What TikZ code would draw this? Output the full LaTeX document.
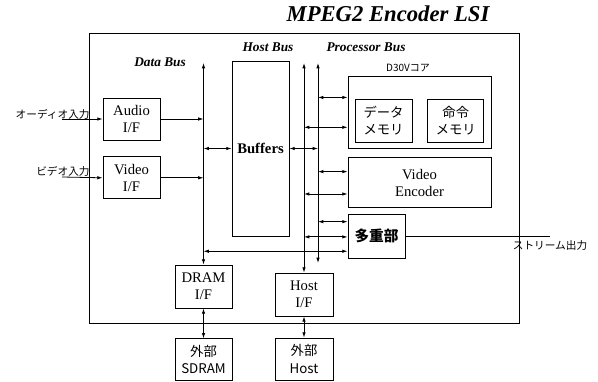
\documentclass[tikz,border=0pt]{standalone}
\usepackage{fontspec}
\setmainfont{Liberation Serif}
\newfontfamily\jp{Noto Sans CJK JP}
\usetikzlibrary{arrows.meta,positioning,calc}

\begin{document}
\begin{tikzpicture}[x=0.75pt,y=-0.75pt,node distance=12pt,>={Latex[length=4pt,width=2.6pt]},line width=0.6pt]
\tikzstyle{box}=[draw, align=center, inner sep=0pt, minimum width=42.75pt, minimum height=31.5pt, font=\fontsize{11}{13}\selectfont]
\tikzstyle{jbox}=[box, font=\jp\fontsize{10}{13}\selectfont]
\tikzstyle{busname}=[font=\bfseries\itshape\fontsize{10}{12}\selectfont]
\tikzstyle{jtext}=[inner sep=0pt, font=\jp\fontsize{8}{10}\selectfont]
\useasboundingbox (0,0) rectangle (598,381);
\node[draw, minimum width=322.5pt, minimum height=217.5pt] (lsi) at (304,178) {};
\node[font=\bfseries\itshape\fontsize{17}{20}\selectfont] (title) at (388,14) {MPEG2 Encoder LSI};
\node[busname] (dbus) at (160,62) {Data Bus};
\node[busname] (hbus) at (268,47) {Host Bus};
\node[busname] (pbus) at (366,47) {Processor Bus};
\node[box] (audio) at (131.5,119) {Audio\\I/F};
\node[box, below=12pt of audio] (video) {Video\\I/F};
\node[box, font=\bfseries\fontsize{11}{13}\selectfont, minimum height=131.25pt] (buf) at (260.5,148.5) {Buffers};
\node[draw, minimum width=107.25pt, minimum height=54pt] (d30v) at (419.5,112) {};
\node[jtext, font=\jp\fontsize{7.5}{9}\selectfont] (core) at (408,68) {D30Vコア};
\node[jbox, minimum height=32.25pt] (dmem) at (383.5,120.5) {データ\\メモリ};
\node[jbox, right=11.25pt of dmem, minimum width=42pt, minimum height=32.25pt] (imem) {命令\\メモリ};
\node[box, below=6.75pt of d30v, minimum width=107.25pt, minimum height=37.5pt] (venc) {Video\\Encoder};
\node[jbox, font=\jp\bfseries\fontsize{11}{13}\selectfont, minimum height=33pt] (mux) at (376.5,236) {多重部};
\node[box, minimum height=32.25pt] (dram) at (203.5,286.5) {DRAM\\I/F};
\node[box, minimum width=43.5pt, minimum height=32.25pt] (hostif) at (304,294.5) {Host\\I/F};
\node[jbox, below=22.5pt of dram] (sdram) {外部\\SDRAM};
\node[jbox, minimum width=43.5pt] (exth) at (304,359) {外部\\Host};
\node[jtext, anchor=east] (ain) at (90,114) {オーディオ入力};
\node[jtext, anchor=east] (vin) at (90,171) {ビデオ入力};
\node[jtext] (sout) at (550,245) {ストリーム出力};
\coordinate (ain0) at (62,119);
\coordinate (vin0) at (62,177);
\coordinate (dtop) at (203.5,63);
\coordinate (htop) at (304,63);
\coordinate (ptop) at (318,63);
\coordinate (pbot) at (318,263);
\draw[->] (ain0) -- (audio.west);
\draw[->] (vin0) -- (video.west);
\draw[->] (audio.east) -- (audio.east -| dtop);
\draw[->] (video.east) -- (video.east -| dtop);
\draw[<->] (dtop) -- (dram.north);
\draw[<->] (htop) -- (hostif.north);
\draw[<->] (ptop) -- (pbot);
\draw[<->] (buf.west) -- (buf.west -| dtop);
\draw[<->] (buf.east) -- (buf.east -| ptop);
\foreach \blk/\pos/\bus in {d30v/.3/ptop, d30v/.71/htop, venc/.28/ptop, venc/.72/htop, mux/.18/ptop, mux/.52/htop, mux/.84/dtop}{
  \coordinate (tap) at ($(\blk.north west)!\pos!(\blk.south west)$);
  \draw[<->] (tap -| \bus) -- (tap);
}
\draw (mux.east) -- (mux.east -| sout.north);
\draw[<->] (dram.south) -- (sdram.north);
\draw[<->] (hostif.south) -- (exth.north);
\end{tikzpicture}
\end{document}
